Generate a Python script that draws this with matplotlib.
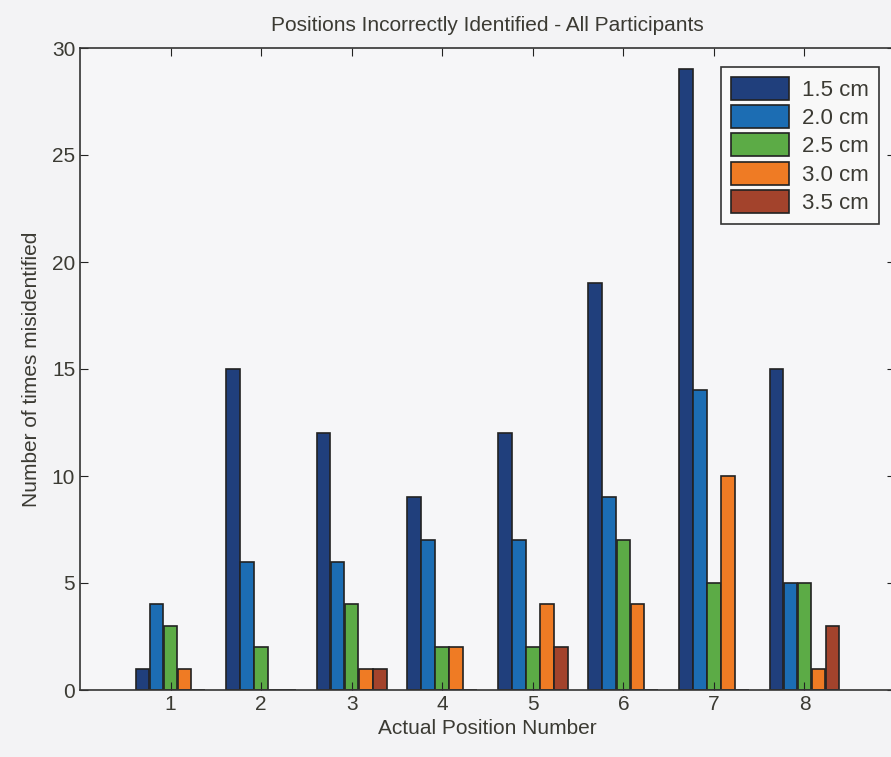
import numpy as np
import matplotlib.pyplot as plt

positions = [1, 2, 3, 4, 5, 6, 7, 8]
labels = ["1.5 cm", "2.0 cm", "2.5 cm", "3.0 cm", "3.5 cm"]
v15 = [1, 15, 12, 9, 12, 19, 29, 15]
v20 = [4, 6, 6, 7, 7, 9, 14, 5]
v25 = [3, 2, 4, 2, 2, 7, 5, 5]
v30 = [1, 0, 1, 2, 4, 4, 10, 1]
v35 = [0, 0, 1, 0, 2, 0, 0, 3]

series = [v15, v20, v25, v30, v35]
colors = ["#203f7c", "#1c6db3", "#5cab46", "#ef7b24", "#a3432c"]
txt = "#3b3a33"

plt.rcParams["font.family"] = ["Liberation Sans", "DejaVu Sans"]
fig = plt.figure(figsize=(8.91, 7.57), dpi=100)
fig.patch.set_facecolor("#f3f3f5")
ax = fig.add_axes([80 / 891, 67 / 757, 815 / 891, 642 / 757])
ax.set_facecolor("#f6f6f8")

x = np.array(positions)
w = 0.155
for i in range(5):
    ax.bar(x + (i - 2) * w, series[i], width=w * 0.97, color=colors[i],
           edgecolor="#222222", linewidth=1.2, label=labels[i])

ax.set_xlim(0, 9)
ax.set_ylim(0, 30)
ax.set_xticks(positions)
ax.set_yticks(range(0, 31, 5))
ax.tick_params(direction="in", length=6, labelsize=15, colors="#222222",
               labelcolor=txt, top=True, right=True)
for s in ax.spines.values():
    s.set_color("#333333")
    s.set_linewidth(1.2)

ax.set_xlabel("Actual Position Number", fontsize=15, color=txt, labelpad=4)
ax.set_ylabel("Number of times misidentified", fontsize=15, color=txt, labelpad=8)
ax.set_title("Positions Incorrectly Identified - All Participants", fontsize=15,
             color=txt, pad=12)

leg = ax.legend(loc="upper right", bbox_to_anchor=(0.994, 0.988), fontsize=16,
                fancybox=False, framealpha=1, edgecolor="#333333",
                handlelength=2.6, handleheight=1.2, borderpad=0.45,
                labelspacing=0.2, handletextpad=0.6)
leg.get_frame().set_facecolor("#f8f8f8")
leg.get_frame().set_linewidth(1.2)
for t in leg.get_texts():
    t.set_color(txt)

fig.savefig("out.png", dpi=100, facecolor=fig.get_facecolor())
